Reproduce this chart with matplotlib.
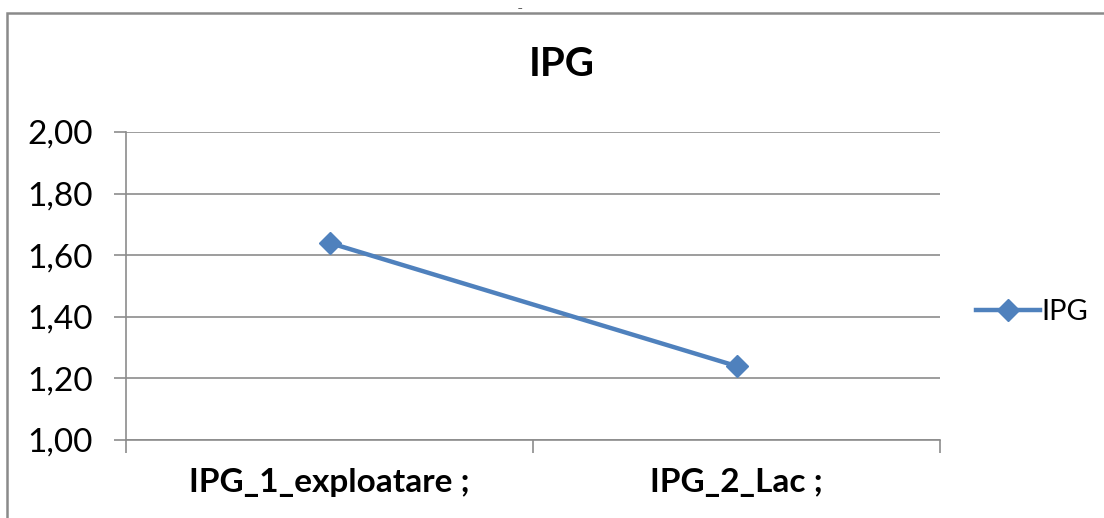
import numpy as np
import matplotlib.pyplot as plt
from matplotlib.patches import Rectangle
from matplotlib.ticker import FuncFormatter

plt.rcParams['font.family'] = ['Lato', 'DejaVu Sans']

# data
categories = ['IPG_1_exploatare ;', 'IPG_2_Lac ;']
ipg_values = [1.64, 1.24]
y_ticks = [1.00, 1.20, 1.40, 1.60, 1.80, 2.00]

line_color = '#4F81BD'
grid_color = '#8C8C8C'

fig = plt.figure(figsize=(11.04, 5.18), dpi=100)

# outer chart frame (cut by the image edges)
fig.patches.append(Rectangle((7 / 1104, -0.05), 1.1, 1 - 13 / 518 + 0.05,
                             transform=fig.transFigure, fill=False,
                             edgecolor='#8A8A8A', linewidth=1.8, zorder=0))
fig.text(520 / 1104, 1.0, '_', ha='center', va='top', fontsize=7, color='#333333')

ax = fig.add_axes([126 / 1104, 1 - 440 / 518, (940 - 126) / 1104, (440 - 132) / 518])

x = np.arange(len(categories))
ax.plot(x, ipg_values, color=line_color, linewidth=3.2, marker='D',
        markersize=11, label='IPG', zorder=3, clip_on=False)

ax.set_xlim(-0.5, len(categories) - 0.5)
ax.set_ylim(1.0, 2.0)
ax.set_yticks(y_ticks)
ax.yaxis.set_major_formatter(FuncFormatter(lambda v, p: f'{v:.2f}'.replace('.', ',')))

# category boundaries as major ticks, names as minor labels
ax.set_xticks(np.arange(len(categories) + 1) - 0.5)
ax.set_xticklabels([])
ax.set_xticks(x, minor=True)
ax.set_xticklabels(categories, minor=True, fontsize=24, fontweight='bold')
ax.tick_params(axis='x', which='minor', length=0, pad=20)
ax.tick_params(axis='x', which='major', length=9, width=1.2, color=grid_color)
ax.tick_params(axis='y', length=9, width=1.2, color=grid_color, labelsize=24, pad=15)

ax.grid(axis='y', color=grid_color, linewidth=1.2)
ax.set_axisbelow(True)
for side in ['top', 'right']:
    ax.spines[side].set_visible(False)
for side in ['left', 'bottom']:
    ax.spines[side].set_color(grid_color)
    ax.spines[side].set_linewidth(1.2)

fig.text(562 / 1104, 1 - 65 / 518, 'IPG', ha='center', va='center',
         fontsize=29, fontweight='bold')

fig.legend(loc='center left', bbox_to_anchor=(976 / 1104, 1 - 312 / 518),
           frameon=False, fontsize=21, handlelength=2.2, handletextpad=0.05,
           borderaxespad=0, borderpad=0)

fig.savefig('out.png', dpi=100)
